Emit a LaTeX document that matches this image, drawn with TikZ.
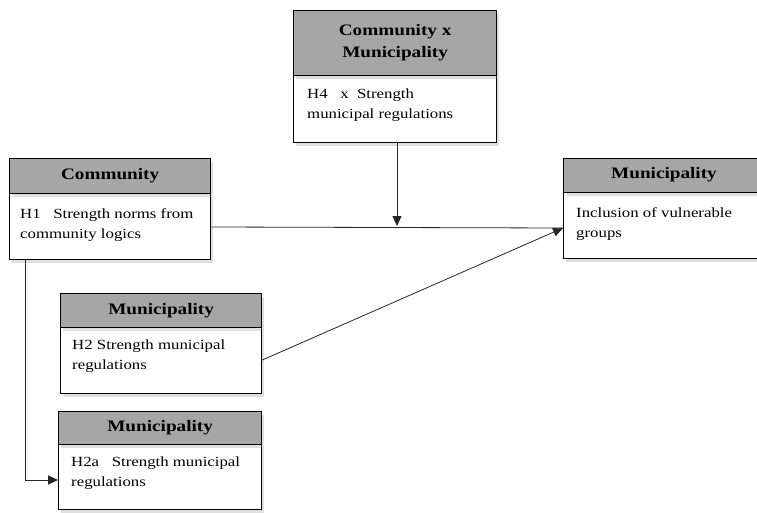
\documentclass[tikz,border=0pt]{standalone}
\usepackage{fontspec}
\setmainfont[FakeStretch=1.2]{Liberation Serif}
\usetikzlibrary{shadows,arrows.meta}
\definecolor{hdrgray}{RGB}{166,166,166}
\tikzset{
  boxshadow/.style={drop shadow={opacity=0.25, shadow xshift=2pt, shadow yshift=-3pt}},
  hdrbox/.style={draw, line width=1.3pt, fill=hdrgray, anchor=north west, inner sep=0pt, boxshadow},
  bodybox/.style={draw, line width=1.3pt, fill=white, anchor=north west, inner sep=0pt, boxshadow},
  hdrtext/.style={align=center, inner sep=0pt, font=\bfseries\fontsize{16}{22}\selectfont},
  bodytext/.style={anchor=north west, align=left, inner sep=0pt, font=\fontsize{14}{20}\selectfont},
  conn/.style={line width=0.8pt, draw=black!85},
  arr/.style={conn, -{Triangle[length=10pt, width=9pt]}},
}
\begin{document}
\begin{tikzpicture}[x=1pt, y=-1pt]
\useasboundingbox (0,0) rectangle (757,513);

% Top box: Community x Municipality
\node[bodybox, minimum width=203pt, minimum height=67pt] (h4b) at (293,75) {};
\node[hdrbox, minimum width=203pt, minimum height=65pt] (h4h) at (293,10) {};
\node[hdrtext] (h4ht) at (h4h.center) {Community x\\Municipality};
\node[bodytext] (h4t) at (307,89) {H4\ \ \ x\ \ Strength\\municipal regulations};

% Community box
\node[bodybox, minimum width=201pt, minimum height=66pt] (h1b) at (9,193) {};
\node[hdrbox, minimum width=201pt, minimum height=35pt] (h1h) at (9,158) {};
\node[hdrtext] (h1ht) at (h1h.center) {Community};
\node[bodytext] (h1t) at (20,208) {H1\ \ \ Strength norms from\\community logics};

% Right box: Municipality (outcome)
\node[bodybox, minimum width=200pt, minimum height=66pt] (outb) at (563,192) {};
\node[hdrbox, minimum width=200pt, minimum height=34pt] (outh) at (563,158) {};
\node[hdrtext] (outht) at (664,175) {Municipality};
\node[bodytext] (outt) at (576,207) {Inclusion of vulnerable\\groups};

% H2 box
\node[bodybox, minimum width=201pt, minimum height=66pt] (h2b) at (60,327) {};
\node[hdrbox, minimum width=201pt, minimum height=34pt] (h2h) at (60,293) {};
\node[hdrtext] (h2ht) at (h2h.center) {Municipality};
\node[bodytext] (h2t) at (72,340) {H2 Strength municipal\\regulations};

% H2a box
\node[bodybox, minimum width=203pt, minimum height=65pt] (h2ab) at (58,444) {};
\node[hdrbox, minimum width=203pt, minimum height=33pt] (h2ah) at (58,411) {};
\node[hdrtext] (h2aht) at (h2ah.center) {Municipality};
\node[bodytext] (h2at) at (71,457) {H2a\ \ \ Strength municipal\\regulations};

% Connectors
\coordinate (tip) at (563,228);
\coordinate (mod) at (397,226);
\draw[conn] (h1b.east |- 0,227) -- (tip);
\draw[arr] (h2b.east |- 0,360) -- (tip);
\draw[arr] (h4b.south -| mod) -- (mod);
\draw[arr] (h1b.south -| 25,0) |- (h2ab.west |- 0,480);
\end{tikzpicture}
\end{document}
